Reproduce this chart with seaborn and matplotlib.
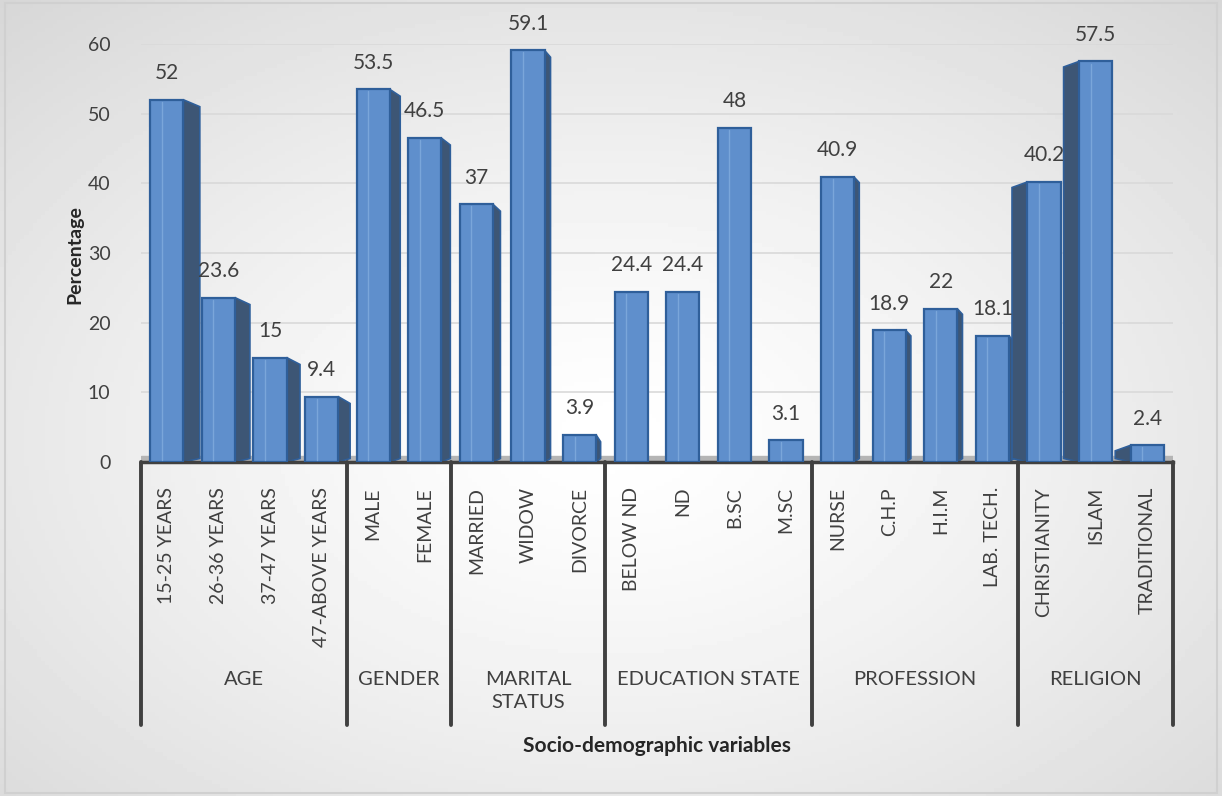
import numpy as np
import pandas as pd
import matplotlib
matplotlib.use("Agg")
import matplotlib.pyplot as plt
from matplotlib.patches import Polygon
import matplotlib.transforms as mtransforms
import seaborn as sns

# ---- data ----
groups = ["AGE", "GENDER", "MARITAL\nSTATUS", "EDUCATION STATE", "PROFESSION", "RELIGION"]
group_sizes = [4, 2, 3, 4, 4, 3]
categories = ["15-25 YEARS", "26-36 YEARS", "37-47 YEARS", "47-ABOVE YEARS",
              "MALE", "FEMALE",
              "MARRIED", "WIDOW", "DIVORCE",
              "BELOW ND", "ND", "B.SC", "M.SC",
              "NURSE", "C.H.P", "H.I.M", "LAB. TECH.",
              "CHRISTIANITY", "ISLAM", "TRADITIONAL"]
values = [52, 23.6, 15, 9.4,
          53.5, 46.5,
          37, 59.1, 3.9,
          24.4, 24.4, 48, 3.1,
          40.9, 18.9, 22, 18.1,
          40.2, 57.5, 2.4]
yticks = [0, 10, 20, 30, 40, 50, 60]

df = pd.DataFrame({"category": categories, "value": values})

sns.set_theme(style="white")
plt.rcParams["font.family"] = ["Lato", "DejaVu Sans"]

W, H = 12.22, 7.96
fig = plt.figure(figsize=(W, H), dpi=100)

# background gradient (decoration)
bg = fig.add_axes([0, 0, 1, 1], zorder=-10)
yy, xx = np.mgrid[0:1:200j, 0:1:300j]
r = np.sqrt(((xx - 0.5) / 0.75) ** 2 + ((yy - 0.55) / 0.75) ** 2)
grad = 1.0 - 0.16 * np.clip(r, 0, 1) ** 1.3
bg.imshow(grad, cmap="gray", vmin=0, vmax=1, extent=[0, 1, 0, 1], aspect="auto")
bg.add_patch(plt.Rectangle((0.004, 0.004), 0.992, 0.992, fill=False,
                           edgecolor="#d0d0d0", lw=1.5, transform=bg.transAxes))
bg.axis("off")

left_px, right_px, top_px, bottom_px = 141, 1173, 44, 462
ax = fig.add_axes([left_px / 1222, 1 - bottom_px / 796,
                   (right_px - left_px) / 1222, (bottom_px - top_px) / 796])
ax.patch.set_alpha(0)

front = "#5f8fcc"
edge = "#2f5f9a"
side = "#3d5675"

sns.barplot(data=df, x="category", y="value", order=categories, ax=ax,
            color=front, saturation=1, width=0.64, edgecolor=edge, linewidth=1.6,
            zorder=3)

ax.set_xlim(-0.5, len(categories) - 0.5)
ax.set_ylim(0, 60)
ax.set_yticks(yticks)
ax.set_yticklabels([str(t) for t in yticks], fontsize=14, color="#404040")
ax.tick_params(axis="y", length=0, pad=22)
ax.yaxis.grid(True, color="#d9d9d9", lw=1.2, zorder=0)
ax.set_axisbelow(True)
ax.set_ylabel("")
for s in ["left", "right", "top"]:
    ax.spines[s].set_visible(False)
ax.spines["bottom"].set_color("#404040")
ax.spines["bottom"].set_linewidth(2.5)

# floor band (decoration)
ax.axhspan(0, 0.8, color="#b5b5b5", zorder=1)

# pseudo-3D side faces derived from bar geometry
n = len(categories)
for i, p in enumerate(ax.patches[:n]):
    x0, w, h = p.get_x(), p.get_width(), p.get_height()
    ax.plot([x0 + w * 0.35, x0 + w * 0.35], [0.3, h - 0.3], color="#7aa6da",
            lw=1.0, zorder=4)
    if i <= 8:
        d = 0.32 * (1 - i / 11)
        xr = x0 + w
        poly = [(xr, 0), (xr + d, 0.5), (xr + d, h - 1.0), (xr, h)]
    elif i <= 12:
        continue
    elif i <= 16:
        d = 0.1
        xr = x0 + w
        poly = [(xr, 0), (xr + d, 0.5), (xr + d, h - 0.8), (xr, h)]
    else:
        d = 0.3
        xl = x0
        poly = [(xl, 0), (xl - d, 0.5), (xl - d, h - 0.8), (xl, h)]
    ax.add_patch(Polygon(poly, closed=True, facecolor=side, edgecolor=edge,
                         lw=1.2, zorder=2.5))

# value labels
for i, v in enumerate(values):
    ax.annotate(f"{v:g}", (i, v), xytext=(0, 12), textcoords="offset points",
                ha="center", va="bottom", fontsize=15, color="#404040", zorder=6)

# hierarchical x axis
ax.set_xticks(range(n))
ax.set_xticklabels(categories, rotation=90, fontsize=14, color="#404040", va="top")
ax.tick_params(axis="x", length=0, pad=18)
ax.set_xlabel("")

trans = mtransforms.blended_transform_factory(ax.transData, ax.transAxes)
bounds = np.concatenate([[0], np.cumsum(group_sizes)]) - 0.5
for b in bounds:
    ax.plot([b, b], [0, -0.63], color="#404040", lw=2.8, transform=trans, clip_on=False)
for gi, g in enumerate(groups):
    c = (bounds[gi] + bounds[gi + 1]) / 2
    ax.text(c, -0.50, g, transform=trans, ha="center", va="top",
            fontsize=14.5, color="#404040", linespacing=1.4)

fig.text((left_px + right_px) / 2 / 1222, 1 - 746 / 796, "Socio-demographic variables",
         ha="center", va="center", fontsize=15, fontweight="bold", color="#262626")
fig.text(75 / 1222, 1 - 255 / 796, "Percentage", rotation=90, ha="center", va="center",
         fontsize=14, fontweight="bold", color="#262626")

fig.savefig("out.png", dpi=100)
